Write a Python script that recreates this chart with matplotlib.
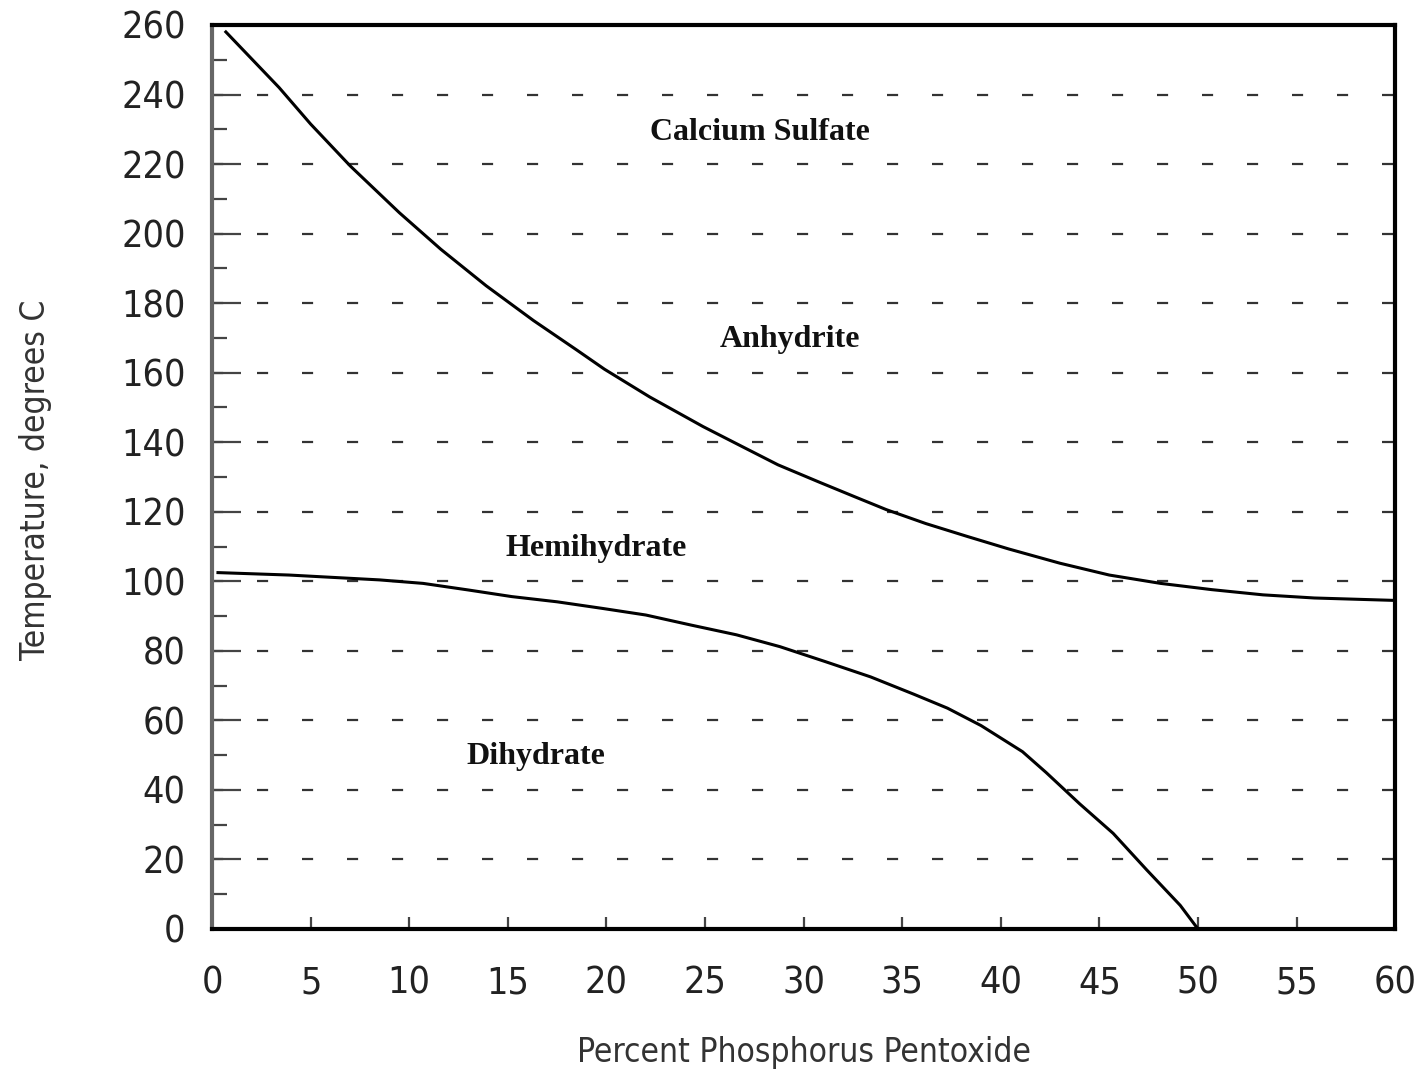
import matplotlib
matplotlib.use('Agg')
import matplotlib.pyplot as plt
from matplotlib.ticker import MultipleLocator

plt.rcParams['lines.scale_dashes'] = False
SANS = ['DejaVu Sans']
SERIF = ['Liberation Serif', 'DejaVu Serif']

# anhydrite / hemihydrate boundary
upper_x = [0.7, 3.4, 5.0, 7.0, 9.5, 11.6, 13.9, 16.3, 18.5, 19.9, 22.2, 24.9,
           26.9, 28.7, 30.8, 32.6, 34.2, 36.2, 38.3, 40.4, 43.0, 45.5, 48.1,
           50.7, 53.3, 55.9, 60.0]
upper_y = [258, 242, 231.5, 219.5, 206, 195.5, 185, 175, 166.5, 161, 153, 144.5,
           138.7, 133.5, 128.5, 124.3, 120.6, 116.6, 112.9, 109.3, 105.2, 101.8, 99.4,
           97.6, 96.1, 95.2, 94.5]

# hemihydrate / dihydrate boundary
lower_x = [0.3, 3.9, 8.5, 10.7, 13.0, 15.2, 17.5, 19.8, 22.0, 24.3, 26.6, 28.8,
           31.1, 33.4, 35.6, 37.3, 39.0, 41.1, 42.3, 44.0, 45.7, 47.4, 49.1, 50.0]
lower_y = [102.5, 101.8, 100.4, 99.4, 97.5, 95.6, 94.1, 92.2, 90.3, 87.4, 84.6, 81.2,
           76.9, 72.5, 67.5, 63.5, 58.5, 51.0, 45.0, 36.0, 27.5, 17.0, 6.8, 0.0]

region_names = ['Calcium Sulfate', 'Anhydrite', 'Hemihydrate', 'Dihydrate']
region_x = [27.8, 29.3, 19.5, 16.4]
region_y = [229, 169.5, 109.5, 49.5]

fig = plt.figure(figsize=(14.28, 10.72), dpi=100)
ax = fig.add_axes([0.1485, 0.1334, 0.8285, 0.8433])

ax.plot(upper_x, upper_y, color='black', linewidth=2.2)
ax.plot(lower_x, lower_y, color='black', linewidth=2.2)

for name, x, y in zip(region_names, region_x, region_y):
    ax.text(x, y, name, ha='center', va='center', fontsize=23,
            family=SERIF, weight='bold', color='#111111')

ax.set_xlim(0, 60)
ax.set_ylim(0, 260)
ax.xaxis.set_major_locator(MultipleLocator(5))
ax.yaxis.set_major_locator(MultipleLocator(20))
ax.yaxis.set_minor_locator(MultipleLocator(10))

ax.yaxis.grid(True, which='major', color='#333333', linewidth=1.6,
              linestyle=(0, (8.0, 24.4)))

ax.tick_params(axis='y', which='major', direction='in', length=21, width=1.6,
               color='#444444', pad=19, labelsize=27)
ax.tick_params(axis='y', which='minor', direction='in', length=11, width=1.6,
               color='#444444')
ax.tick_params(axis='x', which='major', direction='in', length=9, width=1.6,
               color='#444444', pad=26, labelsize=27)

for lab in ax.get_xticklabels() + ax.get_yticklabels():
    lab.set_family(SANS)
    lab.set_stretch('condensed')
    lab.set_color('#222222')

for side in ['top', 'right', 'bottom']:
    ax.spines[side].set_linewidth(3)
    ax.spines[side].set_color('black')
ax.spines['left'].set_linewidth(3)
ax.spines['left'].set_color('#666666')

ax.set_xlabel('Percent Phosphorus Pentoxide', fontsize=24, family=SANS,
              stretch='condensed', color='#333333')
ax.set_ylabel('Temperature, degrees C', fontsize=24, family=SANS,
              stretch='condensed', color='#333333')
ax.xaxis.set_label_coords(0.5, -0.118)
ax.yaxis.set_label_coords(-0.135, 0.497)

fig.savefig('out.png', dpi=100)
